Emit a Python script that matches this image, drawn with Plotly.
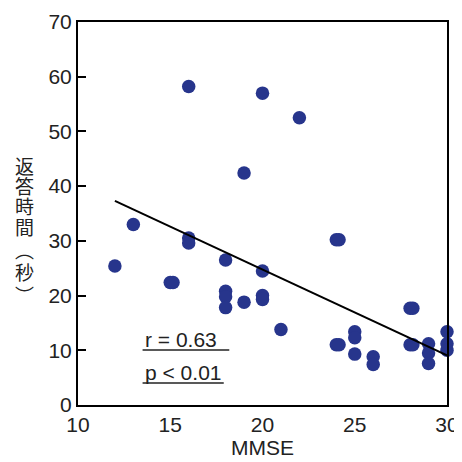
import plotly.graph_objects as go

mmse = [16, 20, 22, 19, 13, 16, 16, 12, 15, 15.15, 18, 20, 18, 18, 18, 19, 20, 20, 21,
        24, 24.15, 24, 24.15, 25, 25, 25, 26, 26, 28, 28.15, 28, 28.15, 29, 29, 29, 30, 30, 30]
resp = [58.2, 57.0, 52.5, 42.4, 33.0, 30.5, 29.6, 25.4, 22.4, 22.4, 26.5, 24.5, 20.8, 19.8, 17.8, 18.8, 20.0, 19.3, 13.8,
        30.2, 30.2, 11.0, 11.0, 13.4, 12.3, 9.3, 8.8, 7.4, 17.7, 17.7, 11.0, 11.0, 11.2, 9.5, 7.6, 13.4, 11.2, 10.0]

fit_intercept = 56.1
fit_slope = -1.567
fit_range = [12, 30]

x_ticks = [10, 15, 20, 25, 30]
y_ticks = [0, 10, 20, 30, 40, 50, 60, 70]
stat_r = "r = 0.63"
stat_p = "p < 0.01"
y_title_chars = ["返", "答", "時", "間", "︵", "秒", "︶"]

fig = go.Figure()
fig.add_trace(go.Scatter(
    x=mmse, y=resp, mode="markers",
    marker=dict(size=13.5, color="#27358C", line=dict(width=0)),
    cliponaxis=False, showlegend=False))
fig.add_trace(go.Scatter(
    x=fit_range, y=[fit_intercept + fit_slope * v for v in fit_range],
    mode="lines", line=dict(color="black", width=2), showlegend=False))

font_main = "Liberation Sans, Arial, sans-serif"

fig.add_annotation(x=13.5, y=11.9, xref="x", yref="y", text=stat_r, showarrow=False,
                   xanchor="left", yanchor="middle", font=dict(size=21, color="#222", family=font_main))
fig.add_annotation(x=13.5, y=6.0, xref="x", yref="y", text=stat_p, showarrow=False,
                   xanchor="left", yanchor="middle", font=dict(size=21, color="#222", family=font_main))
fig.add_shape(type="line", x0=13.5, x1=18.2, y0=10.05, y1=10.05, xref="x", yref="y",
              line=dict(color="#222", width=1.5))
fig.add_shape(type="line", x0=13.5, x1=17.9, y0=4.0, y1=4.0, xref="x", yref="y",
              line=dict(color="#222", width=1.5))

# vertical y-axis title, one character per row (pixel offsets below the plot top)
title_offsets_px = [143, 163.5, 184, 204.5, 227, 249, 272]
plot_h = 383
for ch, py in zip(y_title_chars, title_offsets_px):
    fig.add_annotation(x=-0.145, y=1 - py / plot_h, xref="paper", yref="paper",
                       text=ch, showarrow=False, xanchor="center", yanchor="middle",
                       font=dict(size=19, color="#222", family="Noto Sans CJK JP"))

# page body has an 8px margin, so the figure is 454px to fill the 462px window
fig.update_layout(
    width=454, height=454,
    margin=dict(l=70, r=15, t=14, b=57, autoexpand=False),
    paper_bgcolor="white", plot_bgcolor="white",
    xaxis=dict(range=[10, 30], tickvals=x_ticks, ticks="", showgrid=False, zeroline=False,
               automargin=False,
               showline=True, linecolor="black", linewidth=2, mirror=True,
               tickfont=dict(size=21, color="#222", family=font_main),
               title=dict(text="MMSE", font=dict(size=21, color="#222", family=font_main), standoff=4)),
    yaxis=dict(range=[0, 70], tickvals=y_ticks, ticks="inside", ticklen=8, tickwidth=1.5, tickcolor="black",
               showgrid=False, zeroline=False, automargin=False,
               showline=True, linecolor="black", linewidth=2, mirror=True,
               tickfont=dict(size=21, color="#222", family=font_main)),
)

fig.write_html("out.html")
